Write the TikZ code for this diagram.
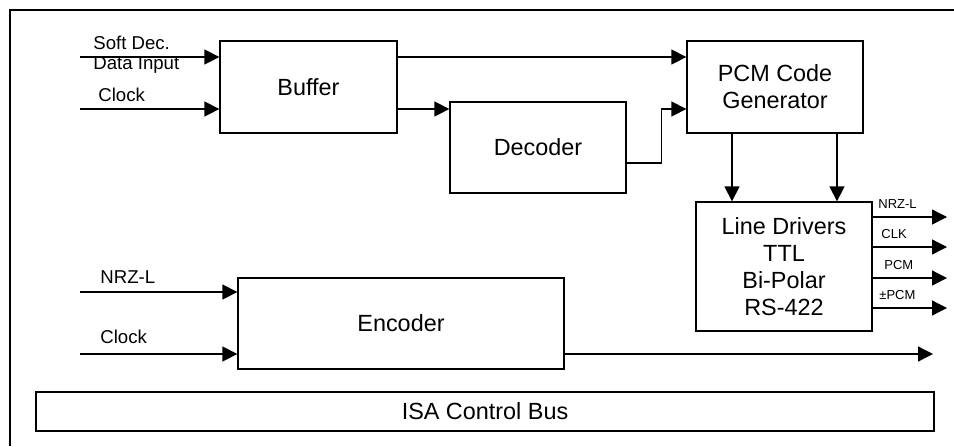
\documentclass[tikz,border=0pt]{standalone}
\usepackage{fontspec}
\setmainfont{Liberation Sans}
\usetikzlibrary{arrows.meta}
\tikzset{
  blk/.style={draw,line width=0.65pt,inner sep=0pt,align=center,
    font=\fontsize{11.7}{13.5}\selectfont},
  sig/.style={line width=0.65pt,-{Triangle[length=7.5pt,width=7.5pt]}},
  lbl/.style={anchor=base west,inner sep=0pt,font=\fontsize{9.3}{10}\selectfont},
  tinylbl/.style={anchor=base west,inner sep=0pt,font=\fontsize{6.5}{7.5}\selectfont}
}

\begin{document}
\begin{tikzpicture}[x=0.5pt,y=-0.5pt]
  \useasboundingbox (0,0) rectangle (954,446);

  % frame
  \draw[line width=0.65pt] (10,446) -- (10,10) -- (954,10);

  % blocks
  \node[blk,minimum width=88.5pt,minimum height=46pt] (buf) at (308.5,87) {Buffer};
  \node[blk,minimum width=88pt,minimum height=46pt] (pcm) at (775,87) {PCM Code\\Generator};
  \node[blk,minimum width=88pt,minimum height=45.5pt] (dec) at (538,147.5) {Decoder};
  \node[blk,minimum width=88pt,minimum height=64.5pt] (ld) at (784,266.5)
    {Line Drivers\\TTL\\Bi-Polar\\RS-422};
  \node[blk,minimum width=163pt,minimum height=45.5pt] (enc) at (401,323.5) {Encoder};
  \node[blk,minimum width=449pt,minimum height=19.5pt] (isa) at (485,411.5) {ISA Control Bus};

  % decoder inputs
  \coordinate (sdin) at (80,57);
  \coordinate (clkin) at (80,109);
  \draw[sig] (sdin) -- (buf.west |- sdin);
  \draw[sig] (clkin) -- (buf.west |- clkin);
  \node[lbl,align=left] (sdlbl) at (93,69) {Soft Dec.\\Data Input};
  \node[lbl] (clklbl) at (98,101.5) {Clock};

  \draw[sig] (buf.east |- sdin) -- (pcm.west |- sdin);
  \draw[sig] (buf.east |- clkin) -- (dec.west |- clkin);
  \draw[sig] ([yshift=-7.75pt]dec.east) -- ++(35,0) |- (pcm.west |- clkin);

  \draw[sig] ([xshift=-21.5pt]pcm.south) -- ([xshift=-21.5pt]pcm.south |- ld.north);
  \draw[sig] ([xshift=31pt]pcm.south) -- ([xshift=31pt]pcm.south |- ld.north);

  % line driver outputs
  \foreach \y/\lx/\txt [count=\i] in {217/878/NRZ-L,247/881/CLK,278/884/PCM,308/879/±PCM}{
    \coordinate (out\i) at (947,\y);
    \draw[sig] (ld.east |- out\i) -- (out\i);
    \node[tinylbl] (outlbl\i) at (\lx,\y-9) {\txt};
  }

  % encoder
  \coordinate (nrzin) at (80,292);
  \coordinate (eclkin) at (80,354);
  \coordinate (encout) at (933,354);
  \draw[sig] (nrzin) -- (enc.west |- nrzin);
  \draw[sig] (eclkin) -- (enc.west |- eclkin);
  \draw[sig] (enc.east |- encout) -- (encout);
  \node[lbl] (nrzlbl) at (100,283) {NRZ-L};
  \node[lbl] (eclklbl) at (100,343) {Clock};

\end{tikzpicture}
\end{document}
